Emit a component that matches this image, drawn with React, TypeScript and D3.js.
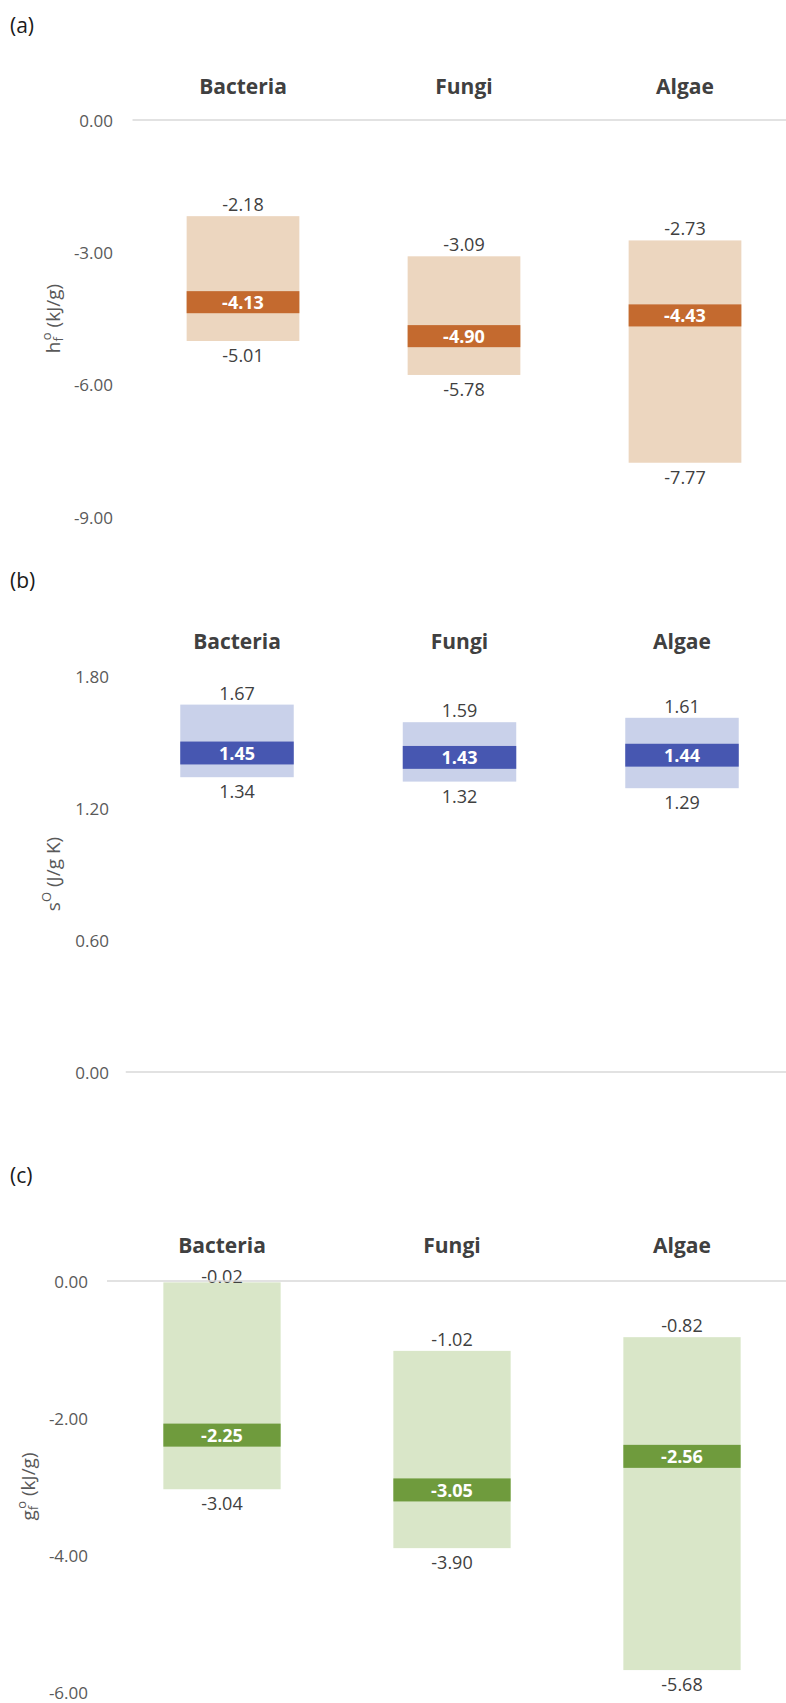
import React from 'react';
import * as d3 from 'd3';

// ---- data ----
const categories = ['Bacteria', 'Fungi', 'Algae'];

const hMax = [-2.18, -3.09, -2.73];
const hMed = [-4.13, -4.9, -4.43];
const hMin = [-5.01, -5.78, -7.77];
const hTicks = [0, -3, -6, -9];

const sMax = [1.67, 1.59, 1.61];
const sMed = [1.45, 1.43, 1.44];
const sMin = [1.34, 1.32, 1.29];
const sTicks = [0, 0.6, 1.2, 1.8];

const gMax = [-0.02, -1.02, -0.82];
const gMed = [-2.25, -3.05, -2.56];
const gMin = [-3.04, -3.9, -5.68];
const gTicks = [0, -2, -4, -6];

const W = 786;
const H = 1703;
const FONT = "'Open Sans', 'DejaVu Sans', sans-serif";

type Panel = {
  tag: string;
  tagY: number;
  catY: number;
  yDomain: [number, number];
  yRange: [number, number];
  xRange: [number, number];
  tickRight: number;
  titleX: number;
  title: 'h' | 's' | 'g';
  bandHalf: number;
  light: string;
  dark: string;
  max: number[];
  med: number[];
  min: number[];
  ticks: number[];
};

const panels: Panel[] = [
  {
    tag: '(a)', tagY: 25, catY: 86,
    yDomain: [0, -9], yRange: [120, 517], xRange: [132.5, 795.5],
    tickRight: 113, titleX: 53, title: 'h', bandHalf: 0.25,
    light: '#ECD6BF', dark: '#C46A2F',
    max: hMax, med: hMed, min: hMin, ticks: hTicks,
  },
  {
    tag: '(b)', tagY: 580, catY: 641,
    yDomain: [0, 1.8], yRange: [1072, 676], xRange: [125.75, 793.25],
    tickRight: 109, titleX: 53, title: 's', bandHalf: 0.052,
    light: '#C9D1EA', dark: '#4757B1',
    max: sMax, med: sMed, min: sMin, ticks: sTicks,
  },
  {
    tag: '(c)', tagY: 1175, catY: 1245,
    yDomain: [0, -6], yRange: [1281, 1692], xRange: [107, 797],
    tickRight: 88, titleX: 28, title: 'g', bandHalf: 0.168,
    light: '#D9E6C8', dark: '#6F9B3D',
    max: gMax, med: gMed, min: gMin, ticks: gTicks,
  },
];

const f2 = d3.format('.2f');
const fmt = (v: number) => f2(v).replace('\u2212', '-');

function YTitle({ kind, x, y }: { kind: 'h' | 's' | 'g'; x: number; y: number }) {
  const common = { fill: '#595959', fontSize: 19, fontFamily: FONT };
  if (kind === 's') {
    return (
      <text transform={`translate(${x},${y}) rotate(-90)`} textAnchor="middle" dominantBaseline="central" {...common}>
        s<tspan fontSize={13} dy={-7}>O</tspan>
        <tspan dy={7}> (J/g K)</tspan>
      </text>
    );
  }
  const base = kind === 'h' ? 'h' : 'g';
  return (
    <text transform={`translate(${x},${y}) rotate(-90)`} textAnchor="middle" dominantBaseline="central" {...common}>
      {base}
      <tspan fontSize={13} dy={5}>f</tspan>
      <tspan fontSize={13} dy={-12} dx={-3}>o</tspan>
      <tspan dy={7}> (kJ/g)</tspan>
    </text>
  );
}

function PanelView({ p }: { p: Panel }) {
  const y = d3.scaleLinear().domain(p.yDomain).range(p.yRange);
  const x = d3.scaleBand<string>().domain(categories).range(p.xRange).padding(0);
  const step = x.step();
  const bw = step * 0.51;
  const plotTop = Math.min(p.yRange[0], p.yRange[1]);
  const midY = (p.yRange[0] + p.yRange[1]) / 2;

  return (
    <g>
      <text x={10} y={p.tagY} dominantBaseline="central" fontSize={21} fontFamily={FONT} fill="#1a1a1a">
        {p.tag}
      </text>
      {categories.map((c) => (
        <text
          key={c}
          x={(x(c) as number) + step / 2}
          y={p.catY}
          textAnchor="middle"
          dominantBaseline="central"
          fontSize={21}
          fontWeight="bold"
          fontFamily={FONT}
          fill="#404040"
        >
          {c}
        </text>
      ))}
      {p.ticks.map((t) => (
        <text
          key={t}
          x={p.tickRight}
          y={y(t)}
          textAnchor="end"
          dominantBaseline="central"
          fontSize={17}
          fontFamily={FONT}
          fill="#595959"
        >
          {fmt(t)}
        </text>
      ))}
      <YTitle kind={p.title} x={p.titleX} y={midY} />
      {categories.map((c, i) => {
        const cx = (x(c) as number) + step / 2;
        const top = y(p.max[i]);
        const bot = y(p.min[i]);
        const bTop = y(p.med[i] + p.bandHalf);
        const bBot = y(p.med[i] - p.bandHalf);
        const maxLabelY = Math.max(top - 12, plotTop - 5);
        return (
          <g key={c}>
            <rect x={cx - bw / 2} y={top} width={bw} height={bot - top} fill={p.light} />
            <rect x={cx - bw / 2} y={bTop} width={bw} height={bBot - bTop} fill={p.dark} />
            <text
              x={cx}
              y={(bTop + bBot) / 2}
              textAnchor="middle"
              dominantBaseline="central"
              fontSize={18}
              fontWeight="bold"
              fontFamily={FONT}
              fill="#ffffff"
            >
              {fmt(p.med[i])}
            </text>
            <text
              x={cx}
              y={maxLabelY}
              textAnchor="middle"
              dominantBaseline="central"
              fontSize={18}
              fontFamily={FONT}
              fill="#404040"
            >
              {fmt(p.max[i])}
            </text>
            <text
              x={cx}
              y={bot + 14}
              textAnchor="middle"
              dominantBaseline="central"
              fontSize={18}
              fontFamily={FONT}
              fill="#404040"
            >
              {fmt(p.min[i])}
            </text>
          </g>
        );
      })}
      <line x1={p.xRange[0]} x2={W} y1={y(0)} y2={y(0)} stroke="#D9D9D9" strokeWidth={1.5} />
    </g>
  );
}

export default function App() {
  return (
    <svg
      width={W}
      height={H}
      viewBox={`0 0 ${W} ${H}`}
      style={{ position: 'absolute', left: 0, top: 0, background: '#ffffff' }}
    >
      <rect x={0} y={0} width={W} height={H} fill="#ffffff" />
      {panels.map((p) => (
        <PanelView key={p.tag} p={p} />
      ))}
    </svg>
  );
}
